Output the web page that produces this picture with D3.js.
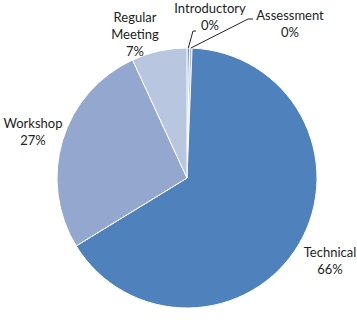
<!DOCTYPE html>
<html>
<head>
<meta charset="utf-8">
<script src="https://cdn.jsdelivr.net/npm/d3@7"></script>
<style>
  body { margin: 0; background: #fff; }
  text { font-family: Lato, "Open Sans", sans-serif; font-size: 13px; fill: #222; }
</style>
</head>
<body>
<svg id="chart" width="357" height="323"></svg>
<script>
// data, in drawing order (clockwise from 12 o'clock)
var categories = ["Introductory", "Assessment", "Technical", "Workshop", "Regular Meeting"],
    counts = [1, 1, 210, 86, 22],
    percentLabels = ["0%", "0%", "66%", "27%", "7%"];

var colors = ["#6d8fc4", "#a9bde0", "#4f81bd", "#94a8cf", "#b9c6df"];

// label block centres (x, y of middle of block)
var labelPos = {
  "Introductory": [210, 16.5],
  "Assessment": [290, 24],
  "Technical": [330, 261],
  "Workshop": [33, 132],
  "Regular Meeting": [135, 34]
};

var svg = d3.select("#chart"),
    cx = 187, cy = 178, radius = 130,
    lineH = 17;

var g = svg.append("g").attr("transform", "translate(" + cx + "," + cy + ")");

var pie = d3.pie().sort(null).value(function(d) { return d.count; });
var arc = d3.arc().innerRadius(0).outerRadius(radius);

var data = categories.map(function(c, i) {
  return {name: c, count: counts[i], pct: percentLabels[i], color: colors[i]};
});
var arcs = pie(data);

g.selectAll("path.slice")
    .data(arcs)
  .enter().append("path")
    .attr("class", "slice")
    .attr("d", arc)
    .attr("fill", function(d) { return d.data.color; })
    .attr("stroke", "#fff")
    .attr("stroke-width", 1);

// leader lines for the tiny slices
function edgePoint(d) {
  var a = (d.startAngle + d.endAngle) / 2;
  return [cx + Math.sin(a) * radius, cy - Math.cos(a) * radius];
}

var leaders = [
  {i: 0, from: [196, 31], elbow: [193, 31]},
  {i: 1, from: [253, 19], elbow: [248, 19]}
];
leaders.forEach(function(l) {
  var p = edgePoint(arcs[l.i]);
  svg.append("path")
      .attr("d", d3.line()([l.from, l.elbow, p]))
      .attr("fill", "none")
      .attr("stroke", "#222")
      .attr("stroke-width", 1);
});

// labels
arcs.forEach(function(d) {
  var name = d.data.name,
      lines = name === "Regular Meeting" ? ["Regular", "Meeting"] : [name];
  lines.push(d.data.pct);
  var pos = labelPos[name],
      top = pos[1] - (lines.length - 1) * lineH / 2;
  var t = svg.append("text")
      .attr("text-anchor", "middle");
  lines.forEach(function(s, k) {
    t.append("tspan")
        .attr("x", pos[0])
        .attr("y", top + k * lineH)
        .attr("dy", "0.35em")
        .text(s);
  });
});
</script>
</body>
</html>
